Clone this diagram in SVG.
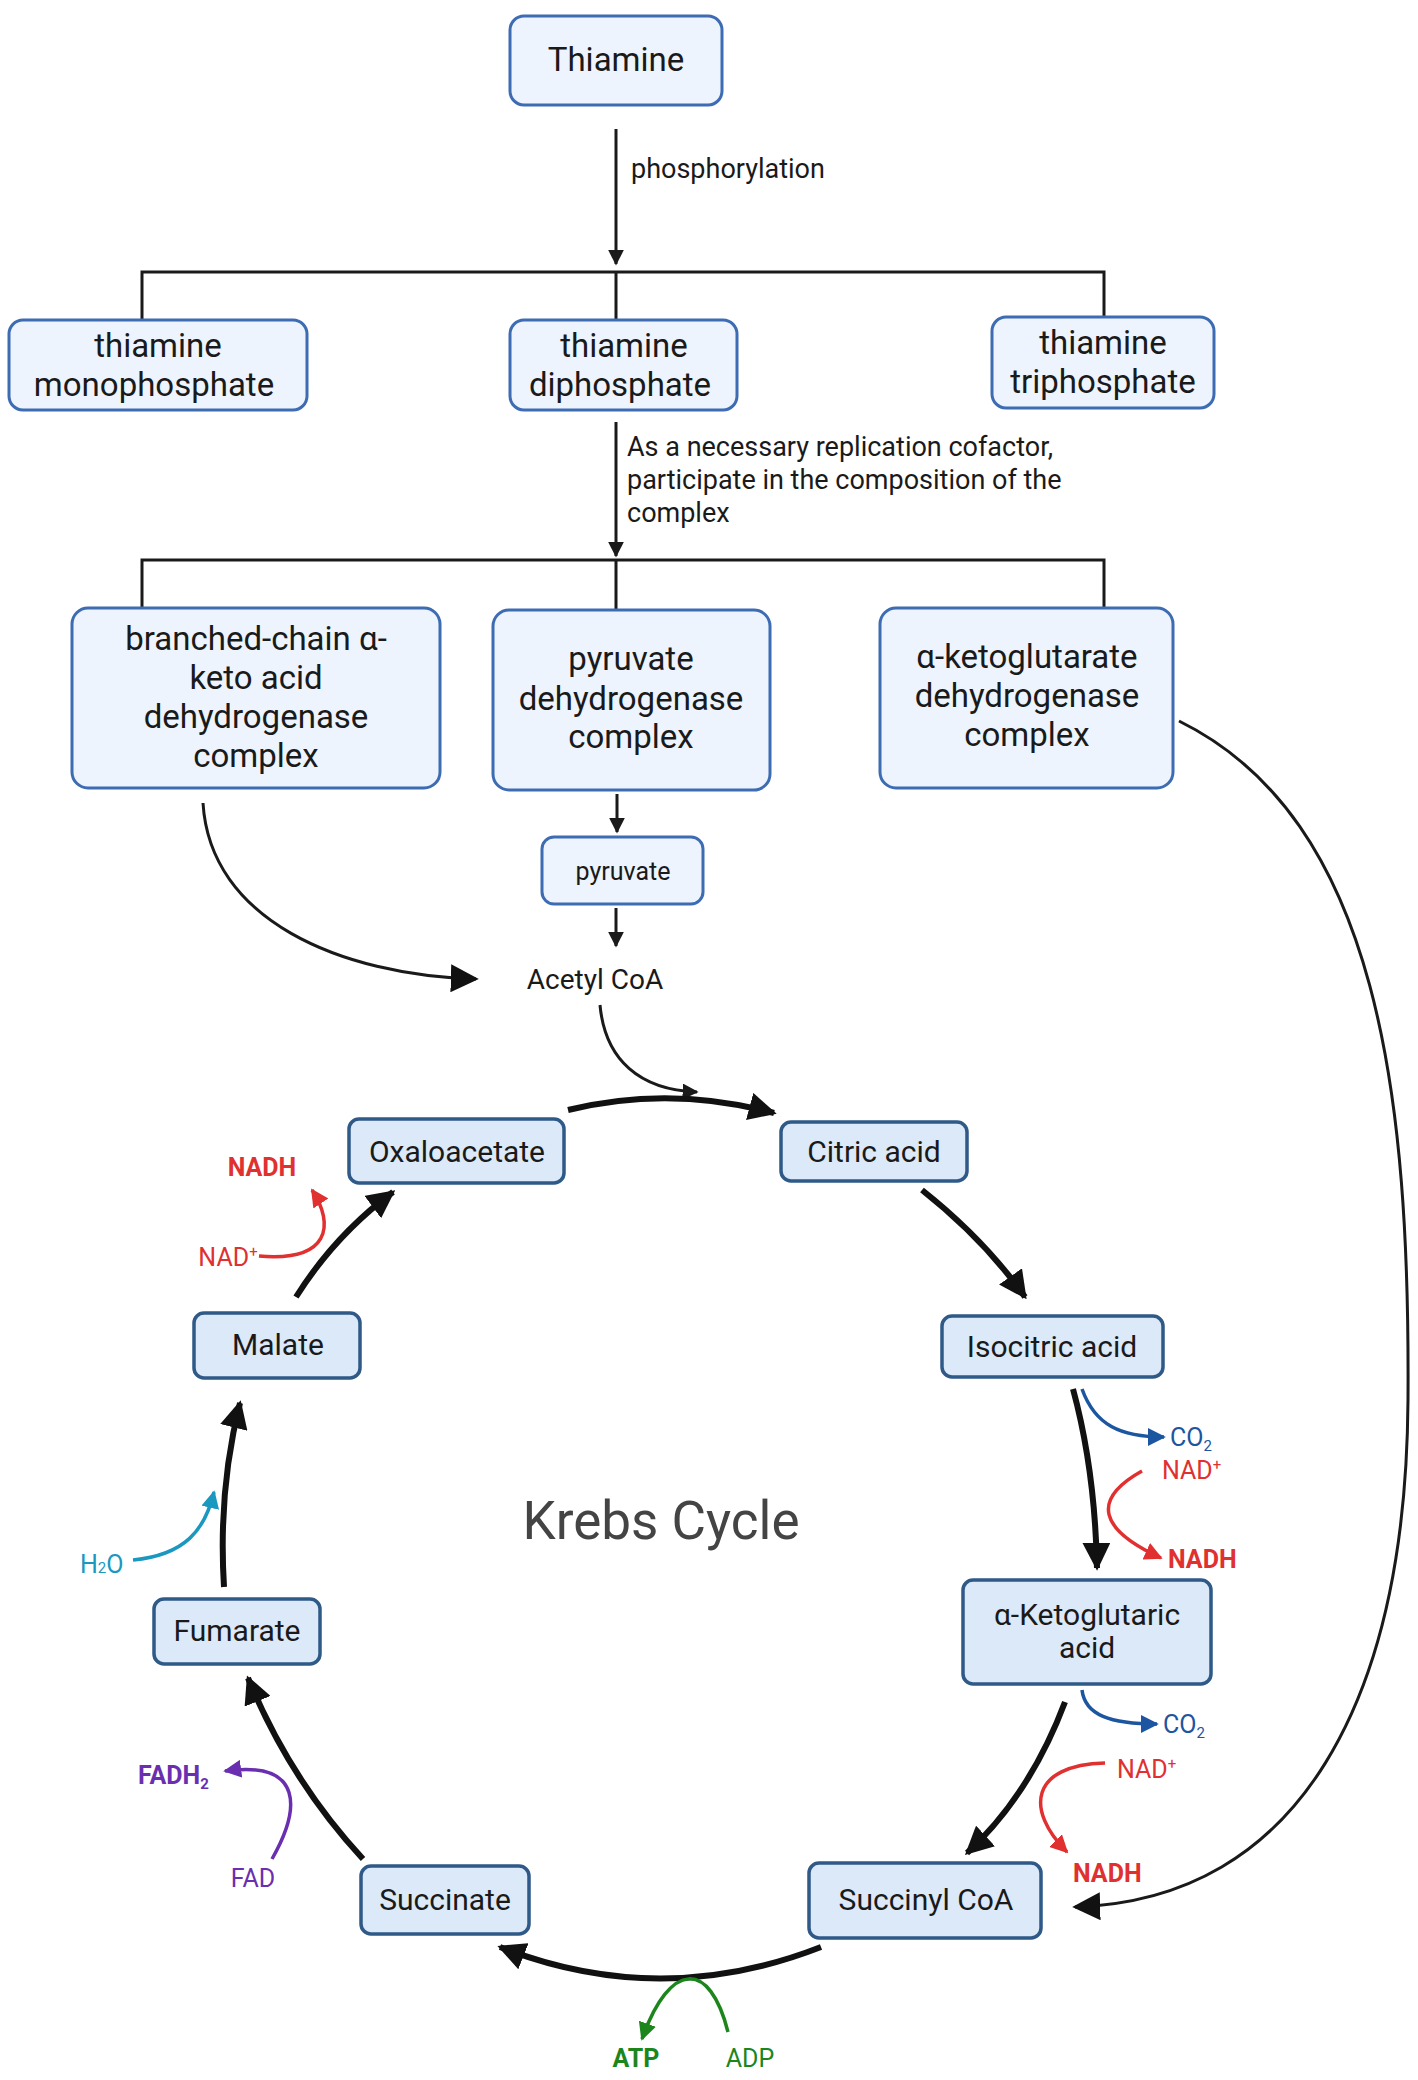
<svg xmlns="http://www.w3.org/2000/svg" width="1418" height="2080" viewBox="0 0 1418 2080">
<style>
text{font-family:Roboto,"Liberation Sans",sans-serif;fill:#1a1a1a}
.n{fill:#edf4fd;stroke:#3d6cb3;stroke-width:3}
.k{fill:#dce9f8;stroke:#2f5a88;stroke-width:3.5}
.t{font-size:33px;text-anchor:middle}
.kt{font-size:30px;text-anchor:middle}
.l{font-size:27px}
.c{fill:none;stroke:#1a1a1a;stroke-width:3}
.cy{fill:none;stroke:#111;stroke-width:6}
.s{fill:none;stroke-width:3.5}
</style>
<defs>
<marker id="a" viewBox="0 0 10 10" refX="9" refY="5" markerWidth="16" markerHeight="16" markerUnits="userSpaceOnUse" orient="auto"><path d="M0,0L10,5L0,10z" fill="#1a1a1a"/></marker>
<marker id="ab" viewBox="0 0 10 10" refX="9" refY="5" markerWidth="28" markerHeight="28" markerUnits="userSpaceOnUse" orient="auto"><path d="M0,0L10,5L0,10z" fill="#111"/></marker>
<marker id="r" viewBox="0 0 10 10" refX="9" refY="5" markerWidth="18" markerHeight="18" markerUnits="userSpaceOnUse" orient="auto"><path d="M0,0L10,5L0,10z" fill="#e03030"/></marker>
<marker id="b" viewBox="0 0 10 10" refX="9" refY="5" markerWidth="18" markerHeight="18" markerUnits="userSpaceOnUse" orient="auto"><path d="M0,0L10,5L0,10z" fill="#1c55a0"/></marker>
<marker id="g" viewBox="0 0 10 10" refX="9" refY="5" markerWidth="18" markerHeight="18" markerUnits="userSpaceOnUse" orient="auto"><path d="M0,0L10,5L0,10z" fill="#1c861c"/></marker>
<marker id="p" viewBox="0 0 10 10" refX="9" refY="5" markerWidth="18" markerHeight="18" markerUnits="userSpaceOnUse" orient="auto"><path d="M0,0L10,5L0,10z" fill="#6a2fb0"/></marker>
<marker id="w" viewBox="0 0 10 10" refX="9" refY="5" markerWidth="18" markerHeight="18" markerUnits="userSpaceOnUse" orient="auto"><path d="M0,0L10,5L0,10z" fill="#1a98c0"/></marker>
</defs>
<rect width="1418" height="2080" fill="#fff"/>

<g id="connectors">
<path class="c" d="M616,129V264" marker-end="url(#a)"/>
<path class="c" d="M142,319V272H1104V317M616,272V320"/>
<path class="c" d="M616,422V556" marker-end="url(#a)"/>
<path class="c" d="M142,608V560H1104V608M616,560V610"/>
<path class="c" d="M617,794V832" marker-end="url(#a)"/>
<path class="c" d="M616,908V946" marker-end="url(#a)"/>
<path class="c" d="M203,803C210,920 340,975 476,979" marker-end="url(#ab)" stroke-width="2"/>
<path class="c" d="M600,1005C605,1060 640,1090 697,1092" marker-end="url(#a)" stroke-width="2.5"/>
<path class="c" d="M1179,721C1380,820 1410,1100 1408,1400C1406,1700 1300,1900 1075,1907" marker-end="url(#ab)"/>
<path class="cy" d="M568,1110Q670,1085 774,1113" marker-end="url(#ab)"/>
<path class="cy" d="M922,1190Q985,1240 1025,1297" marker-end="url(#ab)"/>
<path class="cy" d="M1073,1389Q1095,1470 1097,1568" marker-end="url(#ab)"/>
<path class="cy" d="M1065,1702Q1030,1795 967,1853" marker-end="url(#ab)"/>
<path class="cy" d="M821,1947Q660,2010 500,1947" marker-end="url(#ab)"/>
<path class="cy" d="M363,1859Q290,1780 248,1678" marker-end="url(#ab)"/>
<path class="cy" d="M224,1587Q218,1490 240,1403" marker-end="url(#ab)"/>
<path class="cy" d="M296,1297Q335,1235 393,1192" marker-end="url(#ab)"/>
<path class="s" stroke="#e03030" d="M259,1256C330,1262 335,1225 312,1190" marker-end="url(#r)"/>
<path class="s" stroke="#1c55a0" d="M1082,1389C1095,1425 1120,1437 1164,1437" marker-end="url(#b)"/>
<path class="s" stroke="#e03030" d="M1142,1471C1090,1500 1100,1530 1161,1558" marker-end="url(#r)"/>
<path class="s" stroke="#1c55a0" d="M1082,1690C1085,1715 1110,1724 1157,1724" marker-end="url(#b)"/>
<path class="s" stroke="#e03030" d="M1105,1763C1030,1765 1025,1810 1067,1852" marker-end="url(#r)"/>
<path class="s" stroke="#6a2fb0" d="M272,1859C300,1810 305,1760 225,1771" marker-end="url(#p)"/>
<path class="s" stroke="#1a98c0" d="M133,1560C185,1555 205,1530 214,1492" marker-end="url(#w)"/>
<path class="s" stroke="#1c861c" d="M728,2032C710,1960 670,1960 642,2039" marker-end="url(#g)"/>
</g>

<g id="thiamine"><rect class="n" x="510" y="16" width="212" height="89" rx="14"/><text class="t" x="616" y="71">Thiamine</text></g>
<text class="l" x="631" y="178">phosphorylation</text>
<g id="tmp"><rect class="n" x="9" y="320" width="298" height="90" rx="14"/><text class="t" x="158" y="357">thiamine</text><text class="t" x="154" y="396">monophosphate</text></g>
<g id="tdp"><rect class="n" x="510" y="320" width="227" height="90" rx="14"/><text class="t" x="624" y="357">thiamine</text><text class="t" x="620" y="396">diphosphate</text></g>
<g id="ttp"><rect class="n" x="992" y="317" width="222" height="91" rx="14"/><text class="t" x="1103" y="354">thiamine</text><text class="t" x="1103" y="393">triphosphate</text></g>
<text class="l" x="627" y="456">As a necessary replication cofactor,</text>
<text class="l" x="627" y="489">participate in the composition of the</text>
<text class="l" x="627" y="522">complex</text>
<g id="bckdh"><rect class="n" x="72" y="608" width="368" height="180" rx="16"/><text class="t" x="256" y="650">branched-chain α-</text><text class="t" x="256" y="689">keto acid</text><text class="t" x="256" y="728">dehydrogenase</text><text class="t" x="256" y="767">complex</text></g>
<g id="pdh"><rect class="n" x="493" y="610" width="277" height="180" rx="16"/><text class="t" x="631" y="670">pyruvate</text><text class="t" x="631" y="710">dehydrogenase</text><text class="t" x="631" y="748">complex</text></g>
<g id="akgdh"><rect class="n" x="880" y="608" width="293" height="180" rx="16"/><text class="t" x="1027" y="668">α-ketoglutarate</text><text class="t" x="1027" y="707">dehydrogenase</text><text class="t" x="1027" y="746">complex</text></g>
<g id="pyruvate"><rect class="n" x="542" y="837" width="161" height="67" rx="12"/><text x="623" y="880" font-size="25" text-anchor="middle">pyruvate</text></g>
<g id="acetyl"><text x="595" y="989" font-size="28" text-anchor="middle">Acetyl CoA</text></g>

<g id="oxaloacetate"><rect class="k" x="349" y="1119" width="215" height="64" rx="10"/><text class="kt" x="457" y="1162">Oxaloacetate</text></g>
<g id="citric"><rect class="k" x="781" y="1122" width="186" height="59" rx="10"/><text class="kt" x="874" y="1162">Citric acid</text></g>
<g id="isocitric"><rect class="k" x="942" y="1316" width="221" height="61" rx="10"/><text class="kt" x="1052" y="1357">Isocitric acid</text></g>
<g id="akg"><rect class="k" x="963" y="1580" width="248" height="104" rx="10"/><text class="kt" x="1087" y="1625">α-Ketoglutaric</text><text class="kt" x="1087" y="1658">acid</text></g>
<g id="succinylcoa"><rect class="k" x="809" y="1863" width="232" height="75" rx="10"/><text class="kt" x="926" y="1910">Succinyl CoA</text></g>
<g id="succinate"><rect class="k" x="361" y="1866" width="168" height="68" rx="10"/><text class="kt" x="445" y="1910">Succinate</text></g>
<g id="fumarate"><rect class="k" x="154" y="1599" width="166" height="65" rx="10"/><text class="kt" x="237" y="1641">Fumarate</text></g>
<g id="malate"><rect class="k" x="194" y="1313" width="166" height="65" rx="10"/><text class="kt" x="278" y="1355">Malate</text></g>
<text x="661" y="1539" font-size="53" text-anchor="middle" style="fill:#444">Krebs Cycle</text>

<g font-size="25">
<text x="262" y="1176" text-anchor="middle" font-weight="bold" style="fill:#e03030">NADH</text>
<text x="228" y="1266" text-anchor="middle" style="fill:#e03030">NAD<tspan font-size="15" dy="-9">+</tspan></text>
<text x="1170" y="1446" style="fill:#1c55a0">CO<tspan font-size="15" dy="5">2</tspan></text>
<text x="1162" y="1479" style="fill:#e03030">NAD<tspan font-size="15" dy="-9">+</tspan></text>
<text x="1168" y="1568" font-weight="bold" style="fill:#e03030">NADH</text>
<text x="1163" y="1733" style="fill:#1c55a0">CO<tspan font-size="15" dy="5">2</tspan></text>
<text x="1117" y="1778" style="fill:#e03030">NAD<tspan font-size="15" dy="-9">+</tspan></text>
<text x="1073" y="1882" font-weight="bold" style="fill:#e03030">NADH</text>
<text x="138" y="1784" font-weight="bold" style="fill:#6a2fb0">FADH<tspan font-size="15" dy="5">2</tspan></text>
<text x="253" y="1887" text-anchor="middle" style="fill:#6a2fb0">FAD</text>
<text x="80" y="1573" style="fill:#1a98c0">H<tspan font-size="15">2</tspan>O</text>
<text x="636" y="2067" text-anchor="middle" font-weight="bold" style="fill:#1c861c">ATP</text>
<text x="750" y="2067" text-anchor="middle" style="fill:#1c861c">ADP</text>
</g>
</svg>
